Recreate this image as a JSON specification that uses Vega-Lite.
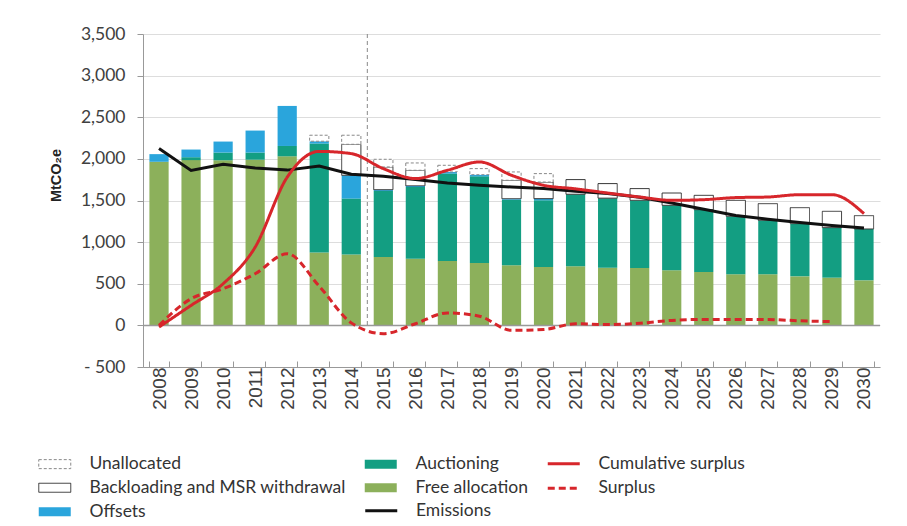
{
  "$schema": "https://vega.github.io/schema/vega-lite/v6.json",
  "width": 737,
  "height": 333,
  "autosize": "none",
  "padding": {"left": 143, "top": 34, "right": 27, "bottom": 159},
  "background": "white",
  "config": {"view": {"stroke": null}, "font": "Lato"},
  "resolve": {"scale": {"color": "independent", "strokeDash": "independent", "stroke": "independent"}},
  "datasets": {
    "bars": [
      {"year": "2008", "series": "Free allocation", "value": 1965},
      {"year": "2008", "series": "Offsets", "value": 92},
      {"year": "2009", "series": "Free allocation", "value": 1985},
      {"year": "2009", "series": "Auctioning", "value": 35},
      {"year": "2009", "series": "Offsets", "value": 92},
      {"year": "2010", "series": "Free allocation", "value": 1983},
      {"year": "2010", "series": "Auctioning", "value": 93},
      {"year": "2010", "series": "Offsets", "value": 132},
      {"year": "2011", "series": "Free allocation", "value": 1990},
      {"year": "2011", "series": "Auctioning", "value": 86},
      {"year": "2011", "series": "Offsets", "value": 264},
      {"year": "2012", "series": "Free allocation", "value": 2031},
      {"year": "2012", "series": "Auctioning", "value": 124},
      {"year": "2012", "series": "Offsets", "value": 481},
      {"year": "2013", "series": "Free allocation", "value": 874},
      {"year": "2013", "series": "Auctioning", "value": 1310},
      {"year": "2013", "series": "Offsets", "value": 28},
      {"year": "2013", "series": "Unallocated", "value": 72},
      {"year": "2014", "series": "Free allocation", "value": 850},
      {"year": "2014", "series": "Auctioning", "value": 673},
      {"year": "2014", "series": "Offsets", "value": 280},
      {"year": "2014", "series": "Backloading and MSR withdrawal", "value": 372},
      {"year": "2014", "series": "Unallocated", "value": 109},
      {"year": "2015", "series": "Free allocation", "value": 821},
      {"year": "2015", "series": "Auctioning", "value": 794},
      {"year": "2015", "series": "Offsets", "value": 15},
      {"year": "2015", "series": "Backloading and MSR withdrawal", "value": 273},
      {"year": "2015", "series": "Unallocated", "value": 92},
      {"year": "2016", "series": "Free allocation", "value": 801},
      {"year": "2016", "series": "Auctioning", "value": 861},
      {"year": "2016", "series": "Offsets", "value": 15},
      {"year": "2016", "series": "Backloading and MSR withdrawal", "value": 186},
      {"year": "2016", "series": "Unallocated", "value": 88},
      {"year": "2017", "series": "Free allocation", "value": 773},
      {"year": "2017", "series": "Auctioning", "value": 1050},
      {"year": "2017", "series": "Offsets", "value": 20},
      {"year": "2017", "series": "Unallocated", "value": 80},
      {"year": "2018", "series": "Free allocation", "value": 749},
      {"year": "2018", "series": "Auctioning", "value": 1041},
      {"year": "2018", "series": "Offsets", "value": 20},
      {"year": "2018", "series": "Unallocated", "value": 73},
      {"year": "2019", "series": "Free allocation", "value": 721},
      {"year": "2019", "series": "Auctioning", "value": 789},
      {"year": "2019", "series": "Offsets", "value": 12},
      {"year": "2019", "series": "Backloading and MSR withdrawal", "value": 221},
      {"year": "2019", "series": "Unallocated", "value": 100},
      {"year": "2020", "series": "Free allocation", "value": 701},
      {"year": "2020", "series": "Auctioning", "value": 801},
      {"year": "2020", "series": "Offsets", "value": 20},
      {"year": "2020", "series": "Backloading and MSR withdrawal", "value": 200},
      {"year": "2020", "series": "Unallocated", "value": 101},
      {"year": "2021", "series": "Free allocation", "value": 709},
      {"year": "2021", "series": "Auctioning", "value": 866},
      {"year": "2021", "series": "Backloading and MSR withdrawal", "value": 176},
      {"year": "2022", "series": "Free allocation", "value": 693},
      {"year": "2022", "series": "Auctioning", "value": 835},
      {"year": "2022", "series": "Backloading and MSR withdrawal", "value": 175},
      {"year": "2023", "series": "Free allocation", "value": 690},
      {"year": "2023", "series": "Auctioning", "value": 812},
      {"year": "2023", "series": "Backloading and MSR withdrawal", "value": 141},
      {"year": "2024", "series": "Free allocation", "value": 661},
      {"year": "2024", "series": "Auctioning", "value": 781},
      {"year": "2024", "series": "Backloading and MSR withdrawal", "value": 148},
      {"year": "2025", "series": "Free allocation", "value": 641},
      {"year": "2025", "series": "Auctioning", "value": 749},
      {"year": "2025", "series": "Backloading and MSR withdrawal", "value": 172},
      {"year": "2026", "series": "Free allocation", "value": 613},
      {"year": "2026", "series": "Auctioning", "value": 697},
      {"year": "2026", "series": "Backloading and MSR withdrawal", "value": 192},
      {"year": "2027", "series": "Free allocation", "value": 613},
      {"year": "2027", "series": "Auctioning", "value": 649},
      {"year": "2027", "series": "Backloading and MSR withdrawal", "value": 200},
      {"year": "2028", "series": "Free allocation", "value": 589},
      {"year": "2028", "series": "Auctioning", "value": 633},
      {"year": "2028", "series": "Backloading and MSR withdrawal", "value": 192},
      {"year": "2029", "series": "Free allocation", "value": 573},
      {"year": "2029", "series": "Auctioning", "value": 601},
      {"year": "2029", "series": "Backloading and MSR withdrawal", "value": 196},
      {"year": "2030", "series": "Free allocation", "value": 541},
      {"year": "2030", "series": "Auctioning", "value": 617},
      {"year": "2030", "series": "Backloading and MSR withdrawal", "value": 160}
    ],
    "lines": [
      {"year": "2008", "series": "Emissions", "value": 2124},
      {"year": "2009", "series": "Emissions", "value": 1860},
      {"year": "2010", "series": "Emissions", "value": 1935},
      {"year": "2011", "series": "Emissions", "value": 1891},
      {"year": "2012", "series": "Emissions", "value": 1865},
      {"year": "2013", "series": "Emissions", "value": 1915},
      {"year": "2014", "series": "Emissions", "value": 1815},
      {"year": "2015", "series": "Emissions", "value": 1790},
      {"year": "2016", "series": "Emissions", "value": 1751},
      {"year": "2017", "series": "Emissions", "value": 1711},
      {"year": "2018", "series": "Emissions", "value": 1683},
      {"year": "2019", "series": "Emissions", "value": 1662},
      {"year": "2020", "series": "Emissions", "value": 1643},
      {"year": "2021", "series": "Emissions", "value": 1612},
      {"year": "2022", "series": "Emissions", "value": 1583},
      {"year": "2023", "series": "Emissions", "value": 1540},
      {"year": "2024", "series": "Emissions", "value": 1470},
      {"year": "2025", "series": "Emissions", "value": 1395},
      {"year": "2026", "series": "Emissions", "value": 1320},
      {"year": "2027", "series": "Emissions", "value": 1275},
      {"year": "2028", "series": "Emissions", "value": 1235},
      {"year": "2029", "series": "Emissions", "value": 1200},
      {"year": "2030", "series": "Emissions", "value": 1170},
      {"year": "2008", "series": "Cumulative surplus", "value": -20},
      {"year": "2009", "series": "Cumulative surplus", "value": 240},
      {"year": "2010", "series": "Cumulative surplus", "value": 500},
      {"year": "2011", "series": "Cumulative surplus", "value": 940},
      {"year": "2012", "series": "Cumulative surplus", "value": 1780},
      {"year": "2013", "series": "Cumulative surplus", "value": 2090},
      {"year": "2014", "series": "Cumulative surplus", "value": 2063},
      {"year": "2015", "series": "Cumulative surplus", "value": 1883},
      {"year": "2016", "series": "Cumulative surplus", "value": 1763},
      {"year": "2017", "series": "Cumulative surplus", "value": 1863},
      {"year": "2018", "series": "Cumulative surplus", "value": 1963},
      {"year": "2019", "series": "Cumulative surplus", "value": 1803},
      {"year": "2020", "series": "Cumulative surplus", "value": 1683},
      {"year": "2021", "series": "Cumulative surplus", "value": 1640},
      {"year": "2022", "series": "Cumulative surplus", "value": 1590},
      {"year": "2023", "series": "Cumulative surplus", "value": 1542},
      {"year": "2024", "series": "Cumulative surplus", "value": 1502},
      {"year": "2025", "series": "Cumulative surplus", "value": 1510},
      {"year": "2026", "series": "Cumulative surplus", "value": 1535},
      {"year": "2027", "series": "Cumulative surplus", "value": 1542},
      {"year": "2028", "series": "Cumulative surplus", "value": 1570},
      {"year": "2029", "series": "Cumulative surplus", "value": 1570},
      {"year": "2030", "series": "Cumulative surplus", "value": 1342},
      {"year": "2008", "series": "Surplus", "value": 0},
      {"year": "2009", "series": "Surplus", "value": 320},
      {"year": "2010", "series": "Surplus", "value": 440},
      {"year": "2011", "series": "Surplus", "value": 620},
      {"year": "2012", "series": "Surplus", "value": 860},
      {"year": "2013", "series": "Surplus", "value": 470},
      {"year": "2014", "series": "Surplus", "value": 30},
      {"year": "2015", "series": "Surplus", "value": -100},
      {"year": "2016", "series": "Surplus", "value": 20},
      {"year": "2017", "series": "Surplus", "value": 150},
      {"year": "2018", "series": "Surplus", "value": 110},
      {"year": "2019", "series": "Surplus", "value": -60},
      {"year": "2020", "series": "Surplus", "value": -50},
      {"year": "2021", "series": "Surplus", "value": 20},
      {"year": "2022", "series": "Surplus", "value": 10},
      {"year": "2023", "series": "Surplus", "value": 25},
      {"year": "2024", "series": "Surplus", "value": 60},
      {"year": "2025", "series": "Surplus", "value": 72},
      {"year": "2026", "series": "Surplus", "value": 72},
      {"year": "2027", "series": "Surplus", "value": 70},
      {"year": "2028", "series": "Surplus", "value": 55},
      {"year": "2029", "series": "Surplus", "value": 45}
    ]
  },
  "layer": [
    {
      "data": {"name": "bars"},
      "transform": [
        {"calculate": "indexof(['Free allocation','Auctioning','Offsets','Backloading and MSR withdrawal','Unallocated'], datum.series)", "as": "stackOrder"}
      ],
      "mark": {"type": "bar", "strokeWidth": 1},
      "encoding": {
        "x": {
          "field": "year", "type": "ordinal",
          "scale": {"paddingInner": 0.4, "paddingOuter": 0.2},
          "axis": {
            "title": null, "labelAngle": -90, "labelFont": "Liberation Sans", "labelFontSize": 19,
            "labelColor": "#404040", "tickBand": "extent", "tickColor": "#999999", "tickSize": -6,
            "domainColor": "#999999", "labelPadding": 6, "grid": false, "labelBaseline": "middle", "labelAlign": "right"
          }
        },
        "y": {
          "field": "value", "type": "quantitative", "stack": "zero",
          "scale": {"domain": [-500, 3500], "nice": false},
          "axis": {
            "values": [-500, 0, 500, 1000, 1500, 2000, 2500, 3000, 3500],
            "labelExpr": "datum.value < 0 ? '- ' + format(-datum.value, ',') : format(datum.value, ',')",
            "labelFont": "Lato", "labelFontSize": 17.5, "labelColor": "#404040", "labelPadding": 12,
            "tickColor": "#999999", "tickSize": 6, "domainColor": "#999999",
            "gridColor": "#dddddd", "gridWidth": 1,
            "title": "MtCO₂e", "titleFont": "Liberation Sans", "titleFontSize": 14.5, "titleFontWeight": "bold",
            "titleColor": "#222222", "titleX": -87, "titleY": 141, "titleBaseline": "middle", "titleAlign": "center", "titleAngle": -90
          }
        },
        "color": {
          "field": "series", "type": "nominal",
          "scale": {
            "domain": ["Unallocated", "Auctioning", "Backloading and MSR withdrawal", "Free allocation", "Offsets"],
            "range": ["#ffffff", "#139e82", "#ffffff", "#8cb05b", "#2aa5dc"]
          },
          "legend": {
            "title": null, "orient": "none", "legendX": -108, "legendY": 421,
            "direction": "horizontal", "columns": 2, "padding": 0,
            "symbolType": "M-1,-0.9H5.4V0.9H-1Z", "symbolSize": 100, "symbolStrokeWidth": 1,
            "labelFont": "Lato", "labelFontSize": 17.5, "labelColor": "#333333", "labelLimit": 400,
            "labelOffset": 37, "rowPadding": 5, "columnPadding": 15
          }
        },
        "stroke": {
          "field": "series", "type": "nominal",
          "scale": {
            "domain": ["Unallocated", "Auctioning", "Backloading and MSR withdrawal", "Free allocation", "Offsets"],
            "range": ["#888888", "transparent", "#333333", "transparent", "transparent"]
          },
          "legend": {
            "title": null, "orient": "none", "legendX": -108, "legendY": 421,
            "direction": "horizontal", "columns": 2, "padding": 0,
            "symbolType": "M-1,-0.9H5.4V0.9H-1Z", "symbolSize": 100, "symbolStrokeWidth": 1,
            "labelFont": "Lato", "labelFontSize": 17.5, "labelColor": "#333333", "labelLimit": 400,
            "labelOffset": 37, "rowPadding": 5, "columnPadding": 15
          }
        },
        "strokeDash": {
          "field": "series", "type": "nominal",
          "scale": {
            "domain": ["Unallocated", "Auctioning", "Backloading and MSR withdrawal", "Free allocation", "Offsets"],
            "range": [[3, 2], [1, 0], [1, 0], [1, 0], [1, 0]]
          },
          "legend": {
            "title": null, "orient": "none", "legendX": -108, "legendY": 421,
            "direction": "horizontal", "columns": 2, "padding": 0,
            "symbolType": "M-1,-0.9H5.4V0.9H-1Z", "symbolSize": 100, "symbolStrokeWidth": 1,
            "labelFont": "Lato", "labelFontSize": 17.5, "labelColor": "#333333", "labelLimit": 400,
            "labelOffset": 37, "rowPadding": 5, "columnPadding": 15
          }
        },
        "order": {"field": "stackOrder", "type": "quantitative"}
      }
    },
    {
      "data": {"values": [{}]},
      "mark": {"type": "rule", "color": "#999999", "strokeWidth": 1.5},
      "encoding": {"y": {"datum": 0, "type": "quantitative"}}
    },
    {
      "data": {"values": [{}]},
      "mark": {"type": "rule", "color": "#888888", "strokeWidth": 1, "strokeDash": [4, 3], "xOffset": -6.4},
      "encoding": {
        "x": {"datum": "2015", "type": "ordinal", "bandPosition": 0},
        "y": {"datum": 3500, "type": "quantitative"},
        "y2": {"datum": 0}
      }
    },
    {
      "data": {"name": "lines"},
      "transform": [{"filter": "datum.series === 'Emissions'"}],
      "mark": {"type": "line", "strokeWidth": 3},
      "encoding": {
        "x": {"field": "year", "type": "ordinal"},
        "y": {"field": "value", "type": "quantitative"},
        "color": {
          "field": "series", "type": "nominal",
          "scale": {"domain": ["Emissions"], "range": ["#111111"]},
          "legend": {
            "title": null, "orient": "none", "legendX": 218.5, "legendY": 468, "padding": 0,
            "symbolType": "M-1,0H5.4", "symbolSize": 100, "symbolStrokeWidth": 3,
            "labelFont": "Lato", "labelFontSize": 17.5, "labelColor": "#333333", "labelLimit": 400,
            "labelOffset": 37, "rowPadding": 5
          }
        }
      }
    },
    {
      "data": {"name": "lines"},
      "transform": [{"filter": "datum.series !== 'Emissions'"}],
      "mark": {"type": "line", "strokeWidth": 3, "interpolate": "monotone"},
      "encoding": {
        "x": {"field": "year", "type": "ordinal"},
        "y": {"field": "value", "type": "quantitative"},
        "color": {
          "field": "series", "type": "nominal",
          "scale": {"domain": ["Cumulative surplus", "Surplus"], "range": ["#d7262b", "#d7262b"]},
          "legend": {
            "title": null, "orient": "none", "legendX": 401, "legendY": 421, "padding": 0, "direction": "vertical",
            "symbolType": "M-1,0H5.4", "symbolSize": 100, "symbolStrokeWidth": 3,
            "labelFont": "Lato", "labelFontSize": 17.5, "labelColor": "#333333", "labelLimit": 400,
            "labelOffset": 37, "rowPadding": 5.5
          }
        },
        "strokeDash": {
          "field": "series", "type": "nominal",
          "scale": {"domain": ["Cumulative surplus", "Surplus"], "range": [[1, 0], [7, 4]]},
          "legend": {
            "title": null, "orient": "none", "legendX": 401, "legendY": 421, "padding": 0, "direction": "vertical",
            "symbolType": "M-1,0H5.4", "symbolSize": 100, "symbolStrokeWidth": 3,
            "labelFont": "Lato", "labelFontSize": 17.5, "labelColor": "#333333", "labelLimit": 400,
            "labelOffset": 37, "rowPadding": 5.5
          }
        }
      }
    }
  ]
}
